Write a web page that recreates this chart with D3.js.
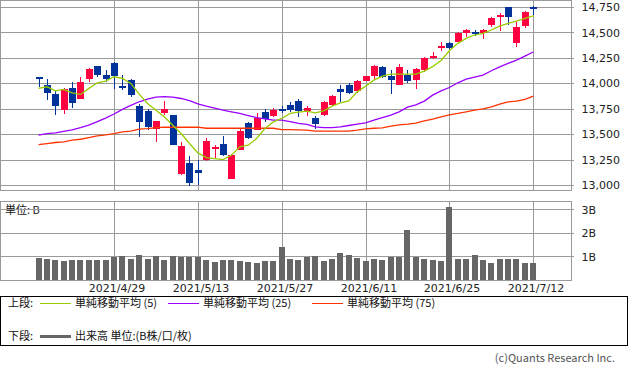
<!DOCTYPE html>
<html>
<head>
<meta charset="utf-8">
<script src="https://cdn.jsdelivr.net/npm/d3@7"></script>
<style>
  body { margin: 0; background: #fff; }
  svg text { font-family: "DejaVu Sans", sans-serif; }
  svg text.jp { font-family: "Noto Sans CJK JP", sans-serif; }
</style>
</head>
<body>
<svg id="chart" width="633" height="372"></svg>
<script>
// daily prices
const opens = [14062, 13983, 13895, 13740, 13954, 13848, 14045, 14170, 14081, 14202,
  13973, 14029, 13777, 13728, 13551, 13708, 13688, 13108, 13216, 13148,
  13246, 13357, 13410, 13066, 13344, 13612, 13541, 13718, 13678, 13750,
  13787, 13829, 13734, 13662, 13688, 13787, 13944, 13980, 13921, 14023,
  14072, 14163, 14075, 13986, 14081, 14032, 14131, 14246, 14344, 14399,
  14409, 14497, 14501, 14491, 14573, 14662, 14753, 14399, 14566, 14747];
const highs = [14062, 14042, 13924, 13954, 14013, 14062, 14150, 14170, 14131, 14212,
  14079, 14045, 13796, 13747, 13629, 13826, 13688, 13423, 13285, 13246,
  13465, 13400, 13482, 13305, 13557, 13622, 13705, 13750, 13754, 13777,
  13816, 13843, 13777, 13681, 13826, 13885, 13983, 14006, 14032, 14072,
  14177, 14173, 14131, 14190, 14131, 14147, 14261, 14311, 14409, 14409,
  14504, 14534, 14524, 14531, 14655, 14688, 14753, 14605, 14714, 14763];
const lows = [13967, 13836, 13688, 13698, 13757, 13848, 14016, 14059, 14016, 13944,
  13934, 13868, 13475, 13544, 13426, 13688, 13396, 13098, 12997, 13000,
  13236, 13266, 13285, 13059, 13344, 13455, 13541, 13619, 13669, 13705,
  13718, 13672, 13681, 13548, 13681, 13780, 13819, 13895, 13907, 14023,
  14042, 14052, 13895, 13986, 14000, 13944, 14114, 14236, 14320, 14334,
  14409, 14458, 14465, 14432, 14550, 14517, 14573, 14360, 14541, 14671];
const closes = [14047, 13907, 13777, 13944, 13809, 14013, 14138, 14084, 14042, 14072,
  13957, 13885, 13622, 13573, 13629, 13747, 13396, 13383, 13023, 13121,
  13433, 13377, 13295, 13295, 13531, 13465, 13656, 13649, 13740, 13737,
  13737, 13734, 13757, 13603, 13816, 13875, 13917, 13905, 14023, 14072,
  14170, 14059, 14032, 14157, 14026, 14140, 14246, 14268, 14367, 14350,
  14497, 14524, 14491, 14524, 14639, 14671, 14655, 14556, 14704, 14727];

// moving averages as drawn
const ma5 = [13951, 13967, 13927, 13941, 13907, 13892, 13951, 14006, 14023, 14065,
  14049, 14000, 13895, 13803, 13737, 13672, 13590, 13508, 13410, 13318,
  13272, 13262, 13253, 13295, 13377, 13393, 13459, 13557, 13622, 13656,
  13705, 13718, 13728, 13711, 13731, 13777, 13809, 13829, 13917, 13973,
  14032, 14072, 14091, 14091, 14091, 14091, 14120, 14165, 14225, 14320,
  14393, 14442, 14475, 14491, 14524, 14563, 14590, 14612, 14639, 14662];
const ma25 = [13492, 13508, 13515, 13530, 13545, 13565, 13590, 13625, 13660, 13700,
  13745, 13785, 13820, 13845, 13865, 13870, 13865, 13852, 13830, 13800,
  13777, 13757, 13737, 13721, 13705, 13685, 13665, 13652, 13639, 13639,
  13626, 13607, 13597, 13573, 13567, 13567, 13573, 13587, 13600, 13612,
  13639, 13665, 13688, 13721, 13767, 13790, 13826, 13885, 13927, 13960,
  14006, 14042, 14062, 14081, 14124, 14163, 14196, 14229, 14268, 14308];
const ma75 = [13400, 13410, 13420, 13426, 13443, 13452, 13469, 13485, 13495, 13508,
  13524, 13531, 13551, 13557, 13567, 13570, 13570, 13570, 13570, 13570,
  13560, 13560, 13560, 13560, 13560, 13560, 13560, 13560, 13560, 13547,
  13547, 13544, 13541, 13531, 13531, 13531, 13531, 13531, 13541, 13554,
  13560, 13564, 13580, 13593, 13600, 13610, 13633, 13649, 13672, 13691,
  13705, 13721, 13737, 13750, 13770, 13796, 13819, 13826, 13843, 13875];

// volume, in billions
const volumes = [0.95, 0.91, 0.87, 0.82, 0.87, 0.87, 0.87, 0.87, 0.87, 0.98,
  1.04, 0.91, 1.08, 0.91, 1.04, 0.87, 1.04, 0.98, 0.98, 0.98,
  0.87, 0.78, 0.87, 0.87, 0.82, 0.78, 0.74, 0.82, 0.82, 1.42,
  0.91, 0.87, 0.98, 1.04, 0.82, 0.91, 1.16, 1.08, 0.95, 0.82,
  0.91, 0.87, 0.98, 0.98, 2.14, 0.98, 0.91, 0.87, 0.82, 3.12,
  0.91, 0.91, 1.08, 0.87, 0.74, 0.91, 0.91, 0.91, 0.74, 0.74];

const dateTickIdx = [9, 19, 29, 39, 49, 59];
const dateTickLabels = ["2021/4/29", "2021/5/13", "2021/5/27", "2021/6/11", "2021/6/25", "2021/7/12"];
const priceTicks = [13000, 13250, 13500, 13750, 14000, 14250, 14500, 14750];
const volumeTicks = [1, 2, 3];

const legendItems = [
  { label: "単純移動平均 (5)", color: "#99cc00", x: 40 },
  { label: "単純移動平均 (25)", color: "#9900ff", x: 168 },
  { label: "単純移動平均 (75)", color: "#ff3300", x: 312 },
];

const UP = "#ff0040";
const DOWN = "#003399";
const GRID = "#9a9a9a";

const svg = d3.select("#chart");
svg.append("rect").attr("width", 633).attr("height", 372).attr("fill", "#fff");

const x = d3.scaleLinear().domain([-4.6, 63.5]).range([0, 571]);
const y = d3.scaleLinear().domain([13000, 14750]).range([185.3, 7]);
const vy = d3.scaleLinear().domain([0, 3]).range([280, 209.5]);
const px = (i) => Math.round(x(i));
const idx = d3.range(opens.length);

// price panel grid
const grid = svg.append("g").attr("stroke", GRID).attr("shape-rendering", "crispEdges");
grid.selectAll("line.h")
  .data(priceTicks)
  .join("line")
  .attr("x1", 0).attr("x2", 574)
  .attr("y1", (d) => Math.round(y(d)) + 0.5)
  .attr("y2", (d) => Math.round(y(d)) + 0.5);
grid.selectAll("line.v")
  .data(dateTickIdx)
  .join("line")
  .attr("x1", (d) => px(d) + 0.5).attr("x2", (d) => px(d) + 0.5)
  .attr("y1", 0).attr("y2", 191);
grid.append("rect")
  .attr("x", 0.5).attr("y", 0.5).attr("width", 571).attr("height", 190)
  .attr("fill", "none");

// candles
const candles = svg.append("g").attr("shape-rendering", "crispEdges");
candles.selectAll("line")
  .data(idx)
  .join("line")
  .attr("x1", (i) => px(i) + 0.5).attr("x2", (i) => px(i) + 0.5)
  .attr("y1", (i) => y(highs[i])).attr("y2", (i) => y(lows[i]))
  .attr("stroke", (i) => (closes[i] >= opens[i] ? UP : DOWN))
  .attr("stroke-width", 1.6);
candles.selectAll("rect")
  .data(idx)
  .join("rect")
  .attr("x", (i) => px(i) - 3)
  .attr("width", 7)
  .attr("y", (i) => y(Math.max(opens[i], closes[i])))
  .attr("height", (i) => Math.max(2, Math.abs(y(opens[i]) - y(closes[i]))))
  .attr("fill", (i) => (closes[i] >= opens[i] ? UP : DOWN));

// moving averages
const maLine = (vals) => d3.line().x((i) => x(i)).y((i) => y(vals[i]))(idx);
[[ma75, "#ff3300"], [ma25, "#9900ff"], [ma5, "#99cc00"]].forEach(([vals, color]) => {
  svg.append("path")
    .attr("d", maLine(vals))
    .attr("fill", "none")
    .attr("stroke", color)
    .attr("stroke-width", 1.3);
});

// price axis labels
svg.append("g")
  .attr("transform", "translate(571.5,0)")
  .call(d3.axisRight(y).tickValues(priceTicks).tickFormat(d3.format(",")).tickSize(0).tickPadding(10))
  .call((g) => g.select(".domain").remove())
  .call((g) => g.selectAll("text").attr("font-size", 11).attr("fill", "#222")
    .style("font-family", "'DejaVu Sans', sans-serif"));

// volume panel
svg.append("text")
  .attr("class", "jp")
  .attr("x", 5).attr("y", 213.5)
  .attr("font-size", 11).attr("fill", "#111")
  .text("単位: B");

const vgrid = svg.append("g").attr("stroke", GRID).attr("shape-rendering", "crispEdges");
vgrid.selectAll("line.h")
  .data(volumeTicks)
  .join("line")
  .attr("x1", 0).attr("x2", 574)
  .attr("y1", (d) => Math.floor(vy(d)) + 0.5)
  .attr("y2", (d) => Math.floor(vy(d)) + 0.5);
vgrid.selectAll("line.v")
  .data(dateTickIdx)
  .join("line")
  .attr("x1", (d) => px(d) + 0.5).attr("x2", (d) => px(d) + 0.5)
  .attr("y1", 201).attr("y2", 281);

svg.append("g")
  .attr("fill", "#666")
  .attr("shape-rendering", "crispEdges")
  .selectAll("rect")
  .data(idx)
  .join("rect")
  .attr("x", (i) => px(i) - 3)
  .attr("width", 6)
  .attr("y", (i) => vy(volumes[i]))
  .attr("height", (i) => vy(0) - vy(volumes[i]));

svg.append("rect")
  .attr("x", 0.5).attr("y", 201.5).attr("width", 571).attr("height", 79)
  .attr("fill", "none").attr("stroke", GRID).attr("shape-rendering", "crispEdges");

svg.append("g")
  .attr("transform", "translate(571.5,0)")
  .call(d3.axisRight(vy).tickValues(volumeTicks).tickFormat((d) => d + "B").tickSize(0).tickPadding(10))
  .call((g) => g.select(".domain").remove())
  .call((g) => g.selectAll("text").attr("font-size", 11).attr("fill", "#222")
    .style("font-family", "'DejaVu Sans', sans-serif"));

// date labels
svg.append("g")
  .selectAll("text")
  .data(dateTickIdx)
  .join("text")
  .attr("x", (d) => px(d) + 3)
  .attr("y", 292)
  .attr("text-anchor", "middle")
  .attr("font-size", 11)
  .attr("fill", "#222")
  .text((d, k) => dateTickLabels[k]);

// legend
const legend = svg.append("g");
legend.append("rect")
  .attr("x", 0.5).attr("y", 296.5).attr("width", 627).attr("height", 49)
  .attr("fill", "none").attr("stroke", "#000").attr("shape-rendering", "crispEdges");
legend.append("text").attr("class", "jp").attr("x", 8).attr("y", 307)
  .attr("font-size", 11).attr("fill", "#111").text("上段:");
legend.append("text").attr("class", "jp").attr("x", 8).attr("y", 340)
  .attr("font-size", 11).attr("fill", "#111").text("下段:");

const items = legend.selectAll("g.item")
  .data(legendItems)
  .join("g");
items.append("line")
  .attr("x1", (d) => d.x).attr("x2", (d) => d.x + 31)
  .attr("y1", 303.5).attr("y2", 303.5)
  .attr("stroke", (d) => d.color).attr("stroke-width", 1);
items.append("text")
  .attr("class", "jp")
  .attr("x", (d) => d.x + 35).attr("y", 307)
  .attr("font-size", 11).attr("fill", "#111")
  .text((d) => d.label);

legend.append("line")
  .attr("x1", 40).attr("x2", 71).attr("y1", 336.5).attr("y2", 336.5)
  .attr("stroke", "#666").attr("stroke-width", 3);
legend.append("text").attr("class", "jp").attr("x", 75).attr("y", 340)
  .attr("font-size", 11).attr("fill", "#111").text("出来高 単位:(B株/口/枚)");

svg.append("text")
  .attr("class", "jp")
  .attr("x", 615).attr("y", 362)
  .attr("text-anchor", "end")
  .attr("font-size", 11).attr("fill", "#555")
  .text("(c)Quants Research Inc.");
</script>
</body>
</html>
